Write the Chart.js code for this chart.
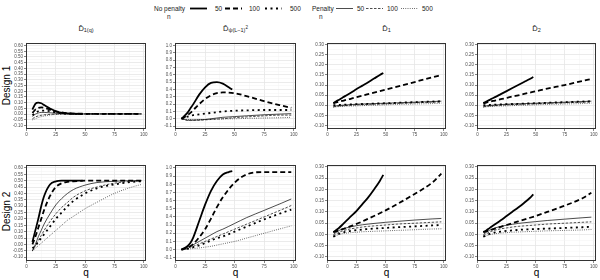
<!DOCTYPE html>
<html lang="en">
<head>
<meta charset="UTF-8">
<title>D hat by q</title>
<script src="https://cdn.jsdelivr.net/npm/chart.js@4.4.0/dist/chart.umd.min.js"></script>
<style>
    body { margin:0; width:600px; height:280px; position:relative; background:#fff; overflow:hidden;
           font-family:"Liberation Sans", Arial, sans-serif; color:#000; }
    canvas { position:absolute; }
    .strip { position:absolute; top:24px; text-align:center; font-size:7.5px; color:#1a1a1a; }
    .strip sub { font-size:5.5px; vertical-align:-1px; }
    .strip sup { font-size:4.5px; }
    .rowlab { position:absolute; width:60px; text-align:center; font-size:10px; transform:rotate(-90deg); }
    .qlab { position:absolute; top:267px; text-align:center; font-size:10px; }
    svg.legend { position:absolute; left:0; top:0; }
</style>
</head>
<body>

<svg class="legend" width="600" height="22" font-family="Liberation Sans, Arial, sans-serif" font-size="6.5" fill="#1a1a1a">
    <text x="154" y="10.5">No penalty</text>
    <text x="167" y="19">n</text>
    <line x1="190" x2="207" y1="8.5" y2="8.5" stroke="#000" stroke-width="1.8"/>
    <text x="215" y="10.5">50</text>
    <line x1="225" x2="242" y1="8.5" y2="8.5" stroke="#000" stroke-width="1.8" stroke-dasharray="5,3"/>
    <text x="249" y="10.5">100</text>
    <line x1="265" x2="282" y1="8.5" y2="8.5" stroke="#000" stroke-width="1.8" stroke-dasharray="2,3.5"/>
    <text x="290" y="10.5">500</text>
    <text x="312" y="10.5">Penalty</text>
    <text x="319" y="19">n</text>
    <line x1="336" x2="353" y1="8.5" y2="8.5" stroke="#000" stroke-width="0.7"/>
    <text x="357" y="10.5">50</text>
    <line x1="366" x2="383" y1="8.5" y2="8.5" stroke="#000" stroke-width="0.7" stroke-dasharray="2.5,1.5"/>
    <text x="387" y="10.5">100</text>
    <line x1="401" x2="418" y1="8.5" y2="8.5" stroke="#000" stroke-width="0.7" stroke-dasharray="0.8,1.4"/>
    <text x="422" y="10.5">500</text>
</svg>

<div class="strip" style="left:26px;width:120px">D&#770;<sub>1(q)</sub></div>
<div class="strip" style="left:175px;width:121px">D&#770;<sub>&psi;(L&minus;1)<sup>2</sup></sub></div>
<div class="strip" style="left:327px;width:119px">D&#770;<sub>1</sub></div>
<div class="strip" style="left:477px;width:119px">D&#770;<sub>2</sub></div>

<div class="rowlab" style="left:-24px;top:80px">Design 1</div>
<div class="rowlab" style="left:-24px;top:206px">Design 2</div>

<div class="qlab" style="left:26px;width:120px">q</div>
<div class="qlab" style="left:175px;width:121px">q</div>
<div class="qlab" style="left:327px;width:119px">q</div>
<div class="qlab" style="left:477px;width:119px">q</div>

<script>
// q grids (no penalty n=50 stops before q=50)
const qShort = [5, 7.5, 10, 12.5, 15, 20, 25, 30, 35, 40, 45, 48];
const qLong  = [5, 7.5, 10, 12.5, 15, 20, 25, 30, 35, 40, 50, 60, 75, 90, 98];

// tick labels
const xTicks  = [0, 25, 50, 75, 100];
const yTicksA = [-0.10, -0.05, 0.00, 0.05, 0.10, 0.15, 0.20, 0.25, 0.30, 0.35, 0.40, 0.45, 0.50, 0.55, 0.60];
const yTicksB = [-0.1, 0.0, 0.1, 0.2, 0.3, 0.4, 0.5, 0.6, 0.7, 0.8, 0.9, 1.0];
const yTicksC = [-0.10, -0.05, 0.00, 0.05, 0.10, 0.15, 0.20, 0.25, 0.30];

// Design 1, D1(q)
const d1A_np50  = [0.04, 0.09, 0.10, 0.095, 0.08, 0.05, 0.025, 0.012, 0.006, 0.004, 0.003, 0.003];
const d1A_np100 = [0.01, 0.04, 0.055, 0.06, 0.055, 0.04, 0.025, 0.015, 0.008, 0.005, 0.003, 0.002, 0.002, 0.002, 0.002];
const d1A_np500 = [-0.01, 0.01, 0.025, 0.03, 0.03, 0.025, 0.015, 0.008, 0.005, 0.003, 0.002, 0.002, 0.002, 0.002, 0.002];
const d1A_p50   = [-0.02, 0.0, 0.01, 0.015, 0.015, 0.012, 0.008, 0.005, 0.003, 0.002, 0.002, 0.002, 0.002, 0.002, 0.002];
const d1A_p100  = [-0.04, -0.025, -0.015, -0.01, -0.006, -0.002, 0.0, 0.001, 0.002, 0.002, 0.002, 0.002, 0.002, 0.002, 0.002];
const d1A_p500  = [-0.05, -0.04, -0.03, -0.022, -0.016, -0.008, -0.003, 0.0, 0.001, 0.002, 0.002, 0.002, 0.002, 0.002, 0.002];

// Design 1, D psi(L-1)^2
const d1B_np50  = [0.0, 0.04, 0.08, 0.14, 0.2, 0.33, 0.43, 0.49, 0.5, 0.48, 0.43, 0.4];
const d1B_np100 = [0.0, 0.02, 0.05, 0.08, 0.12, 0.2, 0.27, 0.32, 0.35, 0.36, 0.35, 0.31, 0.24, 0.18, 0.15];
const d1B_np500 = [0.0, 0.015, 0.03, 0.04, 0.05, 0.06, 0.07, 0.08, 0.09, 0.1, 0.11, 0.115, 0.12, 0.12, 0.12];
const d1B_p50   = [0.0, -0.01, -0.02, -0.02, -0.02, -0.015, -0.01, 0.0, 0.01, 0.02, 0.03, 0.04, 0.055, 0.065, 0.07];
const d1B_p100  = [0.0, -0.01, -0.02, -0.02, -0.02, -0.02, -0.015, -0.01, -0.005, 0.0, 0.015, 0.025, 0.04, 0.05, 0.05];
const d1B_p500  = [0.0, -0.005, -0.01, -0.01, -0.01, -0.01, -0.01, -0.008, -0.005, -0.003, 0.0, 0.005, 0.01, 0.015, 0.02];

// Design 1, D1
const d1C_np50  = [0.01, 0.02, 0.027, 0.036, 0.045, 0.062, 0.08, 0.097, 0.114, 0.132, 0.15, 0.16];
const d1C_np100 = [0.01, 0.014, 0.018, 0.021, 0.025, 0.032, 0.04, 0.047, 0.055, 0.062, 0.077, 0.092, 0.115, 0.138, 0.15];
const d1C_np500 = [0.0, 0.0, 0.001, 0.002, 0.003, 0.004, 0.005, 0.006, 0.007, 0.008, 0.01, 0.012, 0.015, 0.018, 0.02];
const d1C_p50   = [-0.005, -0.003, -0.001, 0.0, 0.001, 0.003, 0.005, 0.006, 0.007, 0.008, 0.01, 0.012, 0.015, 0.018, 0.02];
const d1C_p100  = [-0.008, -0.006, -0.004, -0.003, -0.002, 0.0, 0.002, 0.003, 0.004, 0.005, 0.007, 0.009, 0.012, 0.015, 0.016];
const d1C_p500  = [-0.01, -0.008, -0.007, -0.006, -0.005, -0.004, -0.003, -0.002, -0.001, 0.0, 0.002, 0.004, 0.006, 0.008, 0.01];

// Design 1, D2
const d1D_np50  = [0.01, 0.018, 0.025, 0.033, 0.04, 0.055, 0.07, 0.085, 0.1, 0.115, 0.13, 0.14];
const d1D_np100 = [0.01, 0.013, 0.017, 0.02, 0.023, 0.03, 0.036, 0.043, 0.049, 0.056, 0.069, 0.082, 0.1, 0.12, 0.13];
const d1D_np500 = [0.0, 0.0, 0.001, 0.002, 0.003, 0.004, 0.005, 0.006, 0.007, 0.008, 0.01, 0.012, 0.015, 0.018, 0.02];
const d1D_p50   = [-0.005, -0.003, -0.001, 0.0, 0.001, 0.003, 0.005, 0.006, 0.007, 0.008, 0.01, 0.012, 0.015, 0.018, 0.02];
const d1D_p100  = [-0.008, -0.006, -0.004, -0.003, -0.002, 0.0, 0.002, 0.003, 0.004, 0.005, 0.007, 0.009, 0.012, 0.015, 0.016];
const d1D_p500  = [-0.01, -0.008, -0.007, -0.006, -0.005, -0.004, -0.003, -0.002, -0.001, 0.0, 0.002, 0.004, 0.006, 0.008, 0.01];

// Design 2, D1(q)
const d2A_np50  = [0.02, 0.11, 0.2, 0.3, 0.38, 0.47, 0.495, 0.5, 0.5, 0.5, 0.5, 0.5];
const d2A_np100 = [0.0, 0.06, 0.13, 0.2, 0.27, 0.38, 0.45, 0.48, 0.49, 0.495, 0.5, 0.5, 0.5, 0.5, 0.5];
const d2A_np500 = [-0.03, -0.01, 0.02, 0.05, 0.08, 0.14, 0.2, 0.25, 0.3, 0.34, 0.4, 0.44, 0.47, 0.49, 0.495];
const d2A_p50   = [-0.05, 0.0, 0.06, 0.11, 0.16, 0.24, 0.31, 0.36, 0.4, 0.43, 0.465, 0.485, 0.495, 0.5, 0.5];
const d2A_p100  = [-0.05, -0.01, 0.03, 0.07, 0.11, 0.18, 0.24, 0.29, 0.33, 0.37, 0.42, 0.45, 0.48, 0.495, 0.5];
const d2A_p500  = [-0.05, -0.03, -0.01, 0.01, 0.03, 0.07, 0.11, 0.15, 0.19, 0.22, 0.28, 0.33, 0.4, 0.45, 0.47];

// Design 2, D psi(L-1)^2
const d2B_np50  = [0.0, 0.02, 0.04, 0.08, 0.15, 0.35, 0.55, 0.72, 0.84, 0.92, 0.95, 0.96];
const d2B_np100 = [0.0, 0.01, 0.02, 0.04, 0.07, 0.15, 0.25, 0.38, 0.52, 0.64, 0.82, 0.92, 0.95, 0.95, 0.95];
const d2B_np500 = [0.0, 0.005, 0.01, 0.02, 0.03, 0.05, 0.08, 0.11, 0.14, 0.16, 0.22, 0.28, 0.37, 0.45, 0.49];
const d2B_p50   = [0.0, 0.015, 0.03, 0.045, 0.06, 0.1, 0.14, 0.18, 0.22, 0.25, 0.32, 0.39, 0.48, 0.57, 0.62];
const d2B_p100  = [0.0, 0.01, 0.02, 0.03, 0.04, 0.07, 0.1, 0.13, 0.16, 0.19, 0.25, 0.31, 0.4, 0.49, 0.54];
const d2B_p500  = [0.0, 0.003, 0.006, 0.01, 0.013, 0.02, 0.03, 0.04, 0.055, 0.07, 0.1, 0.14, 0.2, 0.26, 0.29];

// Design 2, D1
const d2C_np50  = [0.01, 0.02, 0.03, 0.042, 0.055, 0.08, 0.105, 0.135, 0.165, 0.2, 0.238, 0.265];
const d2C_np100 = [0.01, 0.014, 0.018, 0.023, 0.027, 0.037, 0.047, 0.058, 0.07, 0.082, 0.107, 0.135, 0.18, 0.23, 0.27];
const d2C_np500 = [-0.01, -0.003, 0.003, 0.008, 0.011, 0.016, 0.019, 0.022, 0.024, 0.026, 0.029, 0.032, 0.036, 0.04, 0.042];
const d2C_p50   = [0.0, 0.01, 0.018, 0.024, 0.028, 0.034, 0.039, 0.043, 0.046, 0.049, 0.054, 0.058, 0.064, 0.069, 0.071];
const d2C_p100  = [-0.005, 0.003, 0.01, 0.015, 0.019, 0.025, 0.029, 0.033, 0.036, 0.038, 0.042, 0.046, 0.05, 0.054, 0.056];
const d2C_p500  = [-0.01, -0.005, 0.0, 0.003, 0.005, 0.008, 0.01, 0.012, 0.013, 0.014, 0.016, 0.018, 0.021, 0.024, 0.025];

// Design 2, D2
const d2D_np50  = [0.01, 0.018, 0.027, 0.036, 0.045, 0.063, 0.082, 0.101, 0.12, 0.14, 0.162, 0.178];
const d2D_np100 = [0.01, 0.014, 0.018, 0.022, 0.026, 0.034, 0.042, 0.05, 0.058, 0.066, 0.082, 0.1, 0.128, 0.16, 0.185];
const d2D_np500 = [-0.01, -0.004, 0.002, 0.006, 0.009, 0.013, 0.016, 0.018, 0.02, 0.022, 0.024, 0.026, 0.029, 0.032, 0.034];
const d2D_p50   = [0.0, 0.01, 0.018, 0.024, 0.029, 0.036, 0.041, 0.045, 0.049, 0.052, 0.057, 0.062, 0.068, 0.074, 0.077];
const d2D_p100  = [-0.005, 0.003, 0.01, 0.015, 0.019, 0.025, 0.029, 0.033, 0.036, 0.038, 0.042, 0.046, 0.05, 0.054, 0.056];
const d2D_p500  = [-0.01, -0.006, -0.002, 0.001, 0.003, 0.006, 0.008, 0.01, 0.011, 0.012, 0.014, 0.016, 0.018, 0.02, 0.022];

// line look for the 6 series: np50, np100, np500, p50, p100, p500
const lineStyles = [
    { w: 1.8, dash: [] },
    { w: 1.8, dash: [5, 3] },
    { w: 1.8, dash: [2, 3.5] },
    { w: 0.7, dash: [] },
    { w: 0.7, dash: [2.5, 1.5] },
    { w: 0.7, dash: [0.8, 1.4] }
];

const colX  = [26, 175, 327, 477];
const colW  = [120, 121, 119, 119];
const rowY  = [42, 164];
const rowH  = [87, 97];
const yAxW  = 26;

const cols = [
    { ticks: yTicksA, min: -0.13, max: 0.625, dec: 2 },
    { ticks: yTicksB, min: -0.14, max: 1.04, dec: 1 },
    { ticks: yTicksC, min: -0.118, max: 0.31, dec: 2 },
    { ticks: yTicksC, min: -0.118, max: 0.31, dec: 2 }
];

const panelData = [
    [[d1A_np50, d1A_np100, d1A_np500, d1A_p50, d1A_p100, d1A_p500],
     [d1B_np50, d1B_np100, d1B_np500, d1B_p50, d1B_p100, d1B_p500],
     [d1C_np50, d1C_np100, d1C_np500, d1C_p50, d1C_p100, d1C_p500],
     [d1D_np50, d1D_np100, d1D_np500, d1D_p50, d1D_p100, d1D_p500]],
    [[d2A_np50, d2A_np100, d2A_np500, d2A_p50, d2A_p100, d2A_p500],
     [d2B_np50, d2B_np100, d2B_np500, d2B_p50, d2B_p100, d2B_p500],
     [d2C_np50, d2C_np100, d2C_np500, d2C_p50, d2C_p100, d2C_p500],
     [d2D_np50, d2D_np100, d2D_np500, d2D_p50, d2D_p100, d2D_p500]]
];

function withMinor(majors) {
    let out = [];
    majors.forEach(function (v, i) {
        out.push(v);
        if (i < majors.length - 1) out.push((v + majors[i + 1]) / 2);
    });
    return out;
}

function isMajor(list, v) {
    return list.some(function (m) { return Math.abs(m - v) < 1e-9; });
}

const panelBorder = {
    id: 'panelBorder',
    afterDraw: function (chart) {
        const a = chart.chartArea, c = chart.ctx;
        c.save();
        c.strokeStyle = '#333333';
        c.lineWidth = 1;
        c.setLineDash([]);
        c.strokeRect(Math.round(a.left) + 0.5, Math.round(a.top) + 0.5,
                     Math.round(a.right - a.left) - 1, Math.round(a.bottom - a.top) - 1);
        c.restore();
    }
};

function gridOpts(majors) {
    return {
        color: function (ctx) {
            return ctx.tick && isMajor(majors, ctx.tick.value) ? '#e6e6e6' : '#f2f2f2';
        },
        lineWidth: function (ctx) {
            return ctx.tick && isMajor(majors, ctx.tick.value) ? 0.8 : 0.5;
        },
        tickColor: function (ctx) {
            return ctx.tick && isMajor(majors, ctx.tick.value) ? '#333333' : 'rgba(0,0,0,0)';
        },
        tickLength: 2,
        tickWidth: 0.6
    };
}

for (let r = 0; r < 2; r++) {
    for (let c = 0; c < 4; c++) {
        const cfg = cols[c];
        const cv = document.createElement('canvas');
        const w = yAxW + colW[c] + 5;
        const h = rowH[r] + 3 + 12;
        cv.width = w; cv.height = h;
        cv.style.left = (colX[c] - yAxW) + 'px';
        cv.style.top = (rowY[r] - 3) + 'px';
        cv.style.width = w + 'px';
        cv.style.height = h + 'px';
        document.body.appendChild(cv);

        const datasets = panelData[r][c].map(function (ys, i) {
            const xs = i === 0 ? qShort : qLong;
            return {
                data: ys.map(function (y, k) { return { x: xs[k], y: y }; }),
                borderColor: '#000000',
                borderWidth: lineStyles[i].w,
                borderDash: lineStyles[i].dash,
                pointRadius: 0,
                fill: false,
                cubicInterpolationMode: 'monotone'
            };
        });

        new Chart(cv, {
            type: 'line',
            data: { datasets: datasets },
            plugins: [panelBorder],
            options: {
                responsive: false,
                animation: false,
                devicePixelRatio: 1,
                layout: { padding: { top: 3, right: 5, left: 0, bottom: 0 } },
                plugins: { legend: { display: false }, tooltip: { enabled: false } },
                scales: {
                    x: {
                        type: 'linear', min: -0.5, max: 102,
                        afterBuildTicks: function (s) {
                            s.ticks = withMinor(xTicks).map(function (v) { return { value: v }; });
                        },
                        afterFit: function (s) { s.height = 12; },
                        border: { display: false },
                        grid: gridOpts(xTicks),
                        ticks: {
                            autoSkip: false, maxRotation: 0, padding: 1,
                            color: '#4d4d4d',
                            font: { family: 'Liberation Sans', size: 4.5 },
                            callback: function (v) { return isMajor(xTicks, v) ? String(v) : ''; }
                        }
                    },
                    y: {
                        type: 'linear', min: cfg.min, max: cfg.max,
                        afterBuildTicks: function (s) {
                            s.ticks = withMinor(cfg.ticks).map(function (v) { return { value: v }; });
                        },
                        afterFit: function (s) { s.width = yAxW; },
                        border: { display: false },
                        grid: gridOpts(cfg.ticks),
                        ticks: {
                            autoSkip: false, padding: 1,
                            color: '#4d4d4d',
                            font: { family: 'Liberation Sans', size: 4.5 },
                            callback: function (v) { return isMajor(cfg.ticks, v) ? Number(v).toFixed(cfg.dec) : ''; }
                        }
                    }
                }
            }
        });
    }
}
</script>
</body>
</html>
